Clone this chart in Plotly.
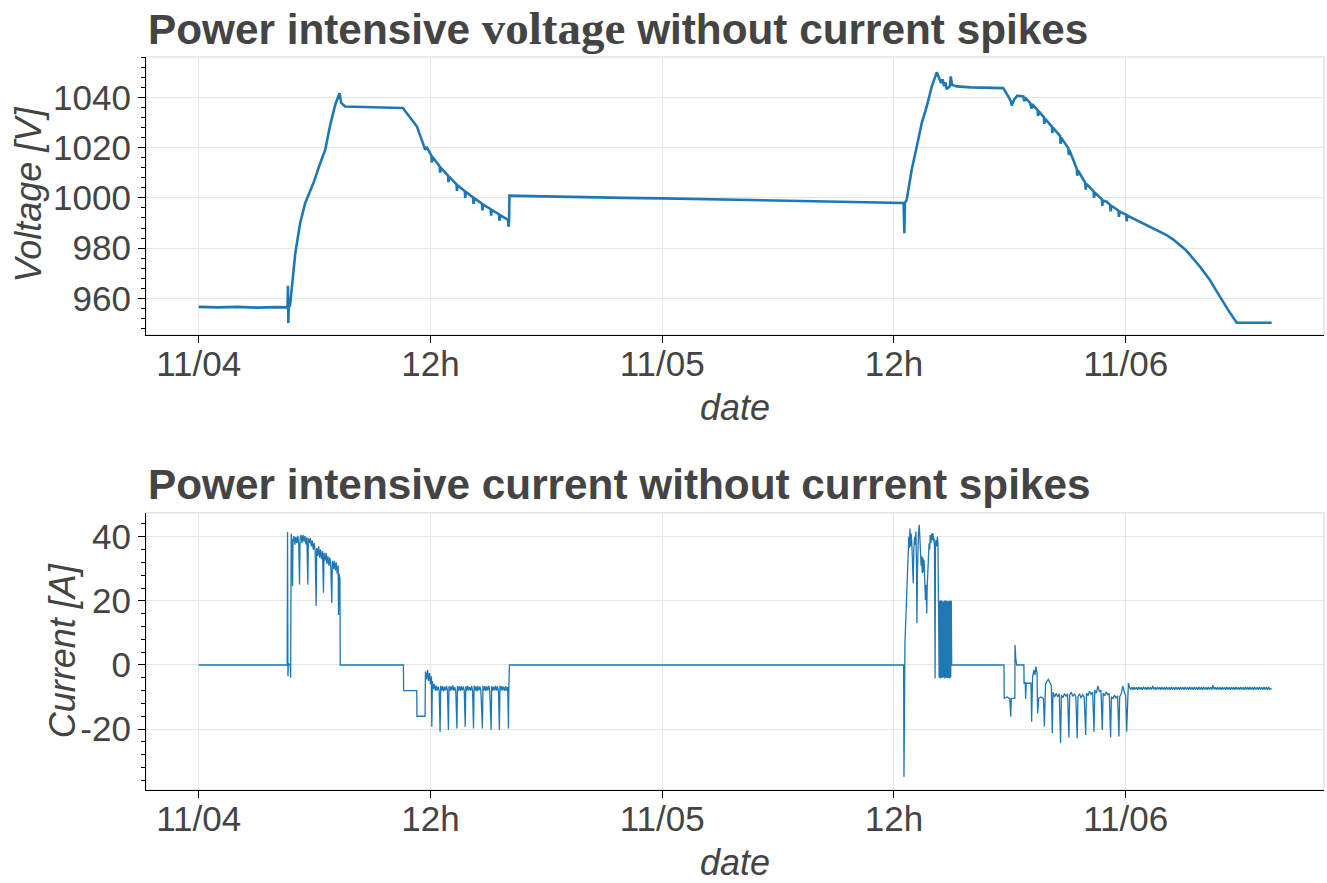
import pandas as pd
import plotly.graph_objects as go

START = pd.Timestamp("2021-11-04 00:00")

# ---- tick labels ----
tick_hours = [0, 12, 24, 36, 48]
tick_labels = ["11/04", "12h", "11/05", "12h", "11/06"]
current_ticks = [-20, 0, 20, 40]
current_tick_labels = ["-20", "0", "20", "40"]

# ---- voltage series: (hours since 11/04 00:00, volts) ----
voltage_rest1 = [(0.00, 956.6), (1.00, 956.4), (2.00, 956.6), (3.00, 956.3), (4.00, 956.5), (4.60, 956.4),
                 (4.62, 965.0), (4.64, 950.2), (4.66, 957.0), (4.70, 956.6), (4.74, 958.0)]
voltage_charge1 = [(5.00, 977.9), (5.25, 989.9), (5.51, 997.9), (5.68, 1001.2), (5.94, 1005.9),
                   (6.29, 1013.8), (6.55, 1019.1), (6.81, 1029.1), (7.07, 1037.1), (7.29, 1041.7),
                   (7.38, 1037.8), (7.58, 1036.4), (8.50, 1036.1), (9.50, 1036.0), (10.57, 1035.8)]
voltage_discharge1 = [(10.95, 1031.8), (11.30, 1028.4), (11.64, 1021.1), (11.73, 1019.1), (11.80, 1020.3),
                      (11.90, 1019.0), (12.05, 1016.8), (12.07, 1014.0), (12.10, 1016.4), (12.48, 1012.5),
                      (12.50, 1010.0), (12.53, 1012.1), (12.91, 1008.9), (12.93, 1006.3), (12.96, 1008.5),
                      (13.35, 1005.4), (13.37, 1002.8), (13.40, 1005.0), (13.78, 1002.7), (13.80, 1000.0),
                      (13.83, 1002.4), (14.21, 1000.2), (14.23, 997.6), (14.26, 999.9), (14.67, 997.7),
                      (14.69, 995.0), (14.72, 997.4), (15.12, 995.5), (15.14, 992.9), (15.17, 995.2),
                      (15.55, 993.5), (15.57, 990.9), (15.60, 993.2), (16.02, 991.2), (16.04, 988.5),
                      (16.07, 990.8)]
voltage_rest2 = [(16.09, 1000.9), (16.50, 1000.8), (18.00, 1000.5), (20.00, 1000.3), (22.00, 1000.0),
                 (24.00, 999.8), (26.00, 999.5), (28.00, 999.3), (30.00, 999.0), (32.00, 998.7),
                 (34.00, 998.4), (36.50, 998.0), (36.54, 985.9), (36.57, 998.0)]
voltage_charge2 = [(36.66, 999.2), (36.92, 1011.2), (37.18, 1020.4), (37.44, 1029.8), (37.70, 1036.4),
                   (37.96, 1044.4), (38.22, 1050.0), (38.35, 1047.7), (38.44, 1045.7), (38.52, 1047.2),
                   (38.60, 1044.5), (38.66, 1046.0), (38.73, 1043.3), (38.90, 1044.5), (38.94, 1048.4),
                   (39.01, 1045.0), (39.25, 1044.4), (40.00, 1044.0), (41.00, 1043.9), (41.66, 1043.7)]
voltage_discharge2 = [(41.92, 1040.4), (42.05, 1038.5), (42.10, 1036.8), (42.22, 1039.1), (42.39, 1040.7),
                      (42.70, 1040.4), (42.75, 1038.5), (42.78, 1040.0), (43.05, 1037.8), (43.13, 1035.5),
                      (43.16, 1037.3), (43.44, 1035.0), (43.46, 1032.6), (43.49, 1034.6), (43.77, 1032.1),
                      (43.79, 1029.5), (43.82, 1031.6), (44.18, 1028.4), (44.20, 1025.8), (44.23, 1028.0),
                      (44.61, 1024.6), (44.63, 1021.5), (44.66, 1024.0), (45.03, 1019.8), (45.06, 1017.0),
                      (45.09, 1019.0), (45.29, 1015.1), (45.47, 1011.5), (45.49, 1008.8), (45.52, 1011.0),
                      (45.63, 1009.6), (45.91, 1006.0), (45.93, 1003.3), (45.96, 1005.6), (46.34, 1002.6),
                      (46.36, 1000.0), (46.39, 1002.2), (46.77, 999.4), (46.79, 996.8), (46.82, 999.0),
                      (47.02, 998.5), (47.20, 997.1), (47.22, 994.6), (47.25, 996.9), (47.53, 995.5),
                      (47.63, 994.8), (47.65, 992.4), (47.68, 994.6), (48.03, 993.3), (48.05, 990.7),
                      (48.08, 993.0), (48.74, 990.5), (49.43, 987.9), (50.12, 985.2), (50.45, 983.5),
                      (50.81, 981.3), (51.08, 979.5), (51.33, 977.3), (51.60, 975.0), (51.85, 972.6),
                      (52.10, 970.0), (52.36, 967.3), (52.62, 964.0), (52.88, 960.6), (53.31, 955.3),
                      (53.75, 950.3), (55.56, 950.3)]

# ---- current series: (hours since 11/04 00:00, amps) ----
current_rest1 = [(0.00, 0.0), (4.58, 0.0), (4.60, 41.5), (4.62, -3.5), (4.64, 0.5), (4.74, 0.0),
                 (4.76, -4.0), (4.79, 41.0)]
current_charge1 = [(4.82, 39.0), (4.86, 24.6), (4.88, 38.5), (4.93, 40.2), (4.98, 37.5), (5.03, 40.0),
                   (5.08, 38.0), (5.13, 40.3), (5.18, 37.8), (5.22, 25.1), (5.25, 39.5), (5.30, 40.5),
                   (5.35, 38.0), (5.40, 40.6), (5.45, 38.5), (5.50, 40.2), (5.55, 37.6), (5.60, 39.8),
                   (5.65, 25.0), (5.68, 39.5), (5.73, 38.0), (5.78, 39.6), (5.83, 37.0), (5.88, 38.8),
                   (5.93, 36.0), (5.98, 38.0), (6.03, 35.5), (6.08, 18.4), (6.11, 36.5), (6.16, 34.0),
                   (6.21, 37.0), (6.26, 33.5), (6.31, 36.0), (6.36, 33.0), (6.41, 35.5), (6.46, 22.5),
                   (6.49, 35.0), (6.54, 32.5), (6.59, 35.0), (6.64, 31.5), (6.69, 34.0), (6.74, 31.0),
                   (6.79, 33.5), (6.84, 30.5), (6.89, 19.3), (6.92, 32.5), (6.97, 30.0), (7.02, 32.5),
                   (7.07, 29.5), (7.12, 32.0), (7.17, 28.5), (7.22, 31.0), (7.24, 15.6), (7.27, 28.5),
                   (7.31, 27.0), (7.33, 0.0)]
current_discharge1 = [(10.60, 0.0), (10.61, -8.0), (11.29, -8.0), (11.30, -16.0), (11.72, -16.0),
                      (11.74, -2.0), (11.80, -4.5), (11.85, -1.5), (11.90, -5.0), (11.95, -2.5),
                      (12.00, -6.0), (12.05, -3.5), (12.07, -19.3),
                      (12.10, -5.0), (12.15, -7.5), (12.20, -6.0), (12.25, -8.0), (12.30, -6.5),
                      (12.35, -8.0), (12.40, -6.8), (12.45, -7.9), (12.50, -20.8),
                      (12.53, -6.5), (12.58, -8.0), (12.63, -6.6), (12.68, -8.2), (12.73, -6.8),
                      (12.78, -7.9), (12.83, -6.5), (12.88, -8.0), (12.93, -20.3),
                      (12.96, -6.6), (13.01, -8.1), (13.06, -6.7), (13.11, -7.9), (13.16, -6.4),
                      (13.21, -8.0), (13.26, -6.9), (13.31, -8.1), (13.37, -19.8),
                      (13.40, -6.5), (13.45, -8.0), (13.50, -6.7), (13.55, -8.1), (13.60, -6.6),
                      (13.65, -7.9), (13.70, -6.8), (13.75, -8.0), (13.80, -19.3),
                      (13.83, -6.6), (13.88, -8.1), (13.93, -6.5), (13.98, -7.9), (14.03, -6.9),
                      (14.08, -8.0), (14.13, -6.6), (14.18, -8.1), (14.23, -19.8),
                      (14.26, -6.4), (14.31, -8.0), (14.36, -6.7), (14.41, -8.2), (14.46, -6.6),
                      (14.51, -7.9), (14.56, -6.8), (14.61, -8.0), (14.69, -19.8),
                      (14.72, -6.5), (14.77, -8.0), (14.82, -6.6), (14.87, -8.1), (14.92, -6.7),
                      (14.97, -7.9), (15.02, -6.5), (15.07, -8.0), (15.14, -20.3),
                      (15.17, -6.6), (15.22, -8.1), (15.27, -6.8), (15.32, -7.9), (15.37, -6.5),
                      (15.42, -8.0), (15.47, -6.7), (15.52, -8.1), (15.57, -20.3),
                      (15.60, -6.5), (15.65, -8.0), (15.70, -6.6), (15.75, -7.9), (15.80, -6.8),
                      (15.85, -8.1), (15.90, -6.6), (15.95, -8.0), (16.00, -6.9), (16.04, -19.8),
                      (16.06, -7.0), (16.09, 0.0)]
current_charge2 = [(36.50, 0.0), (36.52, -34.9), (36.57, 6.8), (36.63, 16.1), (36.69, 24.4), (36.77, 40.0),
                   (36.80, 36.5), (36.83, 42.6), (36.86, 37.0), (36.89, 41.0), (36.92, 38.8), (36.95, 33.0),
                   (37.00, 25.5), (37.03, 36.0), (37.07, 40.0), (37.10, 37.5), (37.14, 41.6), (37.17, 30.0),
                   (37.19, 13.0), (37.22, 30.0), (37.24, 38.8), (37.27, 41.0), (37.31, 43.7), (37.34, 38.0),
                   (37.38, 35.9), (37.41, 31.0), (37.44, 34.0), (37.47, 28.6), (37.50, 33.5), (37.53, 29.0),
                   (37.56, 32.8), (37.60, 26.0), (37.63, 20.3), (37.66, 25.0), (37.70, 16.1), (37.72, 24.0),
                   (37.75, 30.1), (37.78, 35.0), (37.82, 38.0), (37.85, 36.0), (37.88, 40.5), (37.91, 38.0),
                   (37.95, 41.0), (37.99, 39.0), (38.02, 41.1), (38.05, 38.5), (38.08, 39.5), (38.10, 37.0),
                   (38.13, -4.2), (38.15, 37.5), (38.18, 39.0), (38.21, 37.0), (38.25, 40.0), (38.28, 38.0),
                   (38.30, 20.3),
                   (38.32, 20.0), (38.34, -4.0), (38.37, 20.0), (38.40, -4.2), (38.43, 20.2), (38.46, -4.0),
                   (38.49, 20.0), (38.52, -4.1), (38.55, 19.8), (38.58, -3.8), (38.61, 20.0), (38.64, -4.2),
                   (38.67, 20.1), (38.70, -4.0), (38.73, 20.0), (38.76, -4.1), (38.79, 19.9), (38.82, -4.0),
                   (38.85, 20.0), (38.88, -4.2), (38.91, 20.0), (38.94, -3.9), (38.97, 20.0), (38.99, 0.0)]
current_discharge2 = [(41.70, 0.0), (41.71, -10.4), (41.85, -10.0), (42.00, -10.6), (42.05, -16.1),
                      (42.08, -10.4), (42.26, -10.4), (42.27, 6.2), (42.31, 2.0), (42.36, 0.0), (42.73, 0.0),
                      (42.74, -5.7), (42.80, -5.5), (42.82, -10.6), (42.85, -5.7), (43.10, -5.7),
                      (43.13, -17.7), (43.18, -3.6), (43.25, -1.6), (43.30, -3.1), (43.35, -0.5),
                      (43.41, -2.5), (43.44, -15.1), (43.50, -10.4), (43.60, -10.0), (43.74, -10.4),
                      (43.79, -19.2), (43.85, -6.0), (43.91, -5.2), (44.00, -4.5), (44.08, -5.5),
                      (44.15, -6.5), (44.20, -21.3),
                      (44.24, -8.5), (44.32, -10.0), (44.40, -8.8), (44.48, -9.9), (44.56, -9.0), (44.63, -24.4),
                      (44.67, -9.4), (44.75, -10.2), (44.83, -8.9), (44.91, -9.8), (44.99, -9.0), (45.06, -22.6),
                      (45.10, -9.4), (45.18, -8.5), (45.26, -9.8), (45.34, -9.0), (45.42, -10.0), (45.49, -22.9),
                      (45.53, -9.9), (45.61, -9.0), (45.69, -10.3), (45.77, -9.3), (45.85, -10.0), (45.93, -21.8),
                      (45.97, -8.8), (46.05, -9.6), (46.13, -8.2), (46.21, -9.2), (46.29, -8.5), (46.36, -20.8),
                      (46.40, -7.8), (46.48, -8.8), (46.56, -6.5), (46.64, -8.4), (46.72, -7.9), (46.79, -20.3),
                      (46.83, -8.8), (46.91, -9.6), (46.99, -8.4), (47.07, -9.3), (47.15, -8.9), (47.22, -22.6),
                      (47.26, -9.9), (47.34, -10.6), (47.42, -9.4), (47.50, -10.3), (47.58, -9.6), (47.65, -22.3),
                      (47.69, -9.9), (47.77, -9.0), (47.85, -6.5), (47.93, -8.5), (48.00, -9.5), (48.05, -20.8),
                      (48.10, -6.5), (48.14, -5.7)]
current_rest3 = [(48.20, -7.0), (48.26, -7.6), (48.32, -7.0), (48.38, -7.7), (48.44, -6.9), (48.50, -7.6),
                 (48.56, -7.0), (48.62, -7.7), (48.68, -6.9), (48.74, -7.6), (48.80, -7.0), (48.86, -7.7),
                 (48.92, -6.8), (48.98, -7.6), (49.04, -7.0), (49.10, -7.7), (49.16, -6.9), (49.22, -7.6),
                 (49.28, -7.0), (49.34, -7.7), (49.40, -6.5), (49.46, -7.6), (49.52, -7.0), (49.58, -7.7),
                 (49.64, -6.9), (49.70, -7.6), (49.76, -7.0), (49.82, -7.7), (49.88, -6.9), (49.94, -7.6),
                 (50.00, -7.0), (50.06, -7.7), (50.12, -6.9), (50.18, -7.6), (50.24, -7.0), (50.30, -7.7),
                 (50.36, -6.9), (50.42, -7.6), (50.48, -7.0), (50.54, -7.7), (50.60, -6.9), (50.66, -7.6),
                 (50.72, -7.0), (50.78, -7.7), (50.84, -6.9), (50.90, -7.6), (50.96, -7.0), (51.02, -7.7),
                 (51.08, -6.9), (51.14, -7.6), (51.20, -7.0), (51.26, -7.7), (51.32, -6.9), (51.38, -7.6),
                 (51.44, -7.0), (51.50, -7.7), (51.56, -6.9), (51.62, -7.6), (51.68, -7.0), (51.74, -7.7),
                 (51.80, -6.9), (51.86, -7.6), (51.92, -7.0), (51.98, -7.7), (52.04, -6.9), (52.10, -7.6),
                 (52.16, -7.0), (52.22, -7.7), (52.28, -6.9), (52.34, -7.6), (52.40, -7.0), (52.46, -7.7),
                 (52.52, -6.4), (52.58, -7.6), (52.64, -7.0), (52.70, -7.7), (52.76, -6.9), (52.82, -7.6),
                 (52.88, -7.0), (52.94, -7.7), (53.00, -6.9), (53.06, -7.6), (53.12, -7.0), (53.18, -7.7),
                 (53.24, -6.9), (53.30, -7.6), (53.36, -7.0), (53.42, -7.7), (53.48, -6.9), (53.54, -7.6),
                 (53.60, -7.0), (53.66, -7.7), (53.72, -6.9), (53.78, -7.6), (53.84, -7.0), (53.90, -7.7),
                 (53.96, -6.9), (54.02, -7.6), (54.08, -7.0), (54.14, -7.7), (54.20, -6.9), (54.26, -7.6),
                 (54.32, -7.0), (54.38, -7.7), (54.44, -6.9), (54.50, -7.6), (54.56, -7.0), (54.62, -7.7),
                 (54.68, -6.9), (54.74, -7.6), (54.80, -7.0), (54.86, -7.7), (54.92, -6.9), (54.98, -7.6),
                 (55.04, -7.0), (55.10, -7.7), (55.16, -6.9), (55.22, -7.6), (55.28, -7.0), (55.34, -7.7),
                 (55.40, -6.9), (55.46, -7.6), (55.56, -7.3)]

voltage_points = (voltage_rest1 + voltage_charge1 + voltage_discharge1 + voltage_rest2
                  + voltage_charge2 + voltage_discharge2)
current_points = (current_rest1 + current_charge1 + current_discharge1 + current_charge2
                  + current_discharge2 + current_rest3)


def to_time(hours):
    return [START + pd.Timedelta(hours=h) for h in hours]


v_time = to_time([p[0] for p in voltage_points])
v_vals = [p[1] for p in voltage_points]
c_time = to_time([p[0] for p in current_points])
c_vals = [p[1] for p in current_points]

LINE = "#1f77b4"
TXT = "#444444"
GRID = "#e6e6e6"
FONT = "Liberation Sans"
TICK_SIZE = 35
TITLE_SIZE = 36

fig = go.Figure()
fig.add_trace(go.Scatter(x=v_time, y=v_vals, mode="lines", line=dict(color=LINE, width=2.6),
                         xaxis="x", yaxis="y", showlegend=False))
fig.add_trace(go.Scatter(x=c_time, y=c_vals, mode="lines", line=dict(color=LINE, width=1.3),
                         xaxis="x2", yaxis="y2", showlegend=False))

x_range = to_time([-2.73, 58.27])
tickvals = to_time(tick_hours)

common_x = dict(type="date", range=x_range, tickvals=tickvals, ticktext=tick_labels,
                showgrid=True, gridcolor=GRID, gridwidth=1, showline=True, linecolor="black",
                linewidth=1.2, ticks="outside", ticklen=7, tickcolor="black", ticklabelstandoff=-9,
                tickfont=dict(size=TICK_SIZE, color=TXT, family=FONT), zeroline=False,
                title=dict(text="<i>date</i>", font=dict(size=TITLE_SIZE, color=TXT, family=FONT), standoff=12))
common_y = dict(showgrid=True, gridcolor=GRID, gridwidth=1, showline=True, linecolor="black",
                linewidth=1.2, ticks="outside", ticklen=7, tickcolor="black",
                tickfont=dict(size=TICK_SIZE, color=TXT, family=FONT), zeroline=False,
                minor=dict(dtick=4, ticks="outside", ticklen=4, tickcolor="black", showgrid=False))

axis_title_font = dict(size=TITLE_SIZE, color=TXT, family=FONT)

fig.update_layout(
    width=1327, height=883,
    margin=dict(l=146, r=3, t=57, b=93),
    paper_bgcolor="white", plot_bgcolor="white",
    font=dict(family=FONT, color=TXT),
    xaxis=dict(domain=[0, 1], anchor="y", **common_x),
    yaxis=dict(domain=[0.6207, 1], anchor="x", range=[945.4, 1056.1], dtick=20, tick0=0, **common_y),
    xaxis2=dict(domain=[0, 1], anchor="y2", **common_x),
    yaxis2=dict(domain=[0, 0.3783], anchor="x2", range=[-39.0, 47.5],
                tickmode="array", tickvals=current_ticks, ticktext=current_tick_labels, **common_y),
    shapes=[
        dict(type="rect", xref="x domain", yref="y domain", x0=0, x1=1, y0=0, y1=1,
             line=dict(color="#e3e3e3", width=1.5), layer="below"),
        dict(type="rect", xref="x2 domain", yref="y2 domain", x0=0, x1=1, y0=0, y1=1,
             line=dict(color="#e3e3e3", width=1.5), layer="below"),
    ],
    annotations=[
        dict(text="<b>Power intensive <span style='font-family:Liberation Serif;font-size:47px'>voltage</span> without current spikes</b>",
             xref="paper", yref="paper", x=0, y=1.04, xanchor="left", yanchor="middle",
             showarrow=False, font=dict(size=42.3, color=TXT, family=FONT)),
        dict(text="<b>Power intensive current without current spikes</b>",
             xref="paper", yref="paper", x=0, y=0.4163, xanchor="left", yanchor="middle",
             showarrow=False, font=dict(size=42.3, color=TXT, family=FONT)),
        dict(text="<i>Voltage [V]</i>", textangle=-90, xref="paper", yref="paper",
             x=-0.1002, y=0.8125, xanchor="center", yanchor="middle", showarrow=False,
             font=axis_title_font),
        dict(text="<i>Current [A]</i>", textangle=-90, xref="paper", yref="paper",
             x=-0.0713, y=0.1892, xanchor="center", yanchor="middle", showarrow=False,
             font=axis_title_font),
    ],
)

fig.write_html("out.html")
